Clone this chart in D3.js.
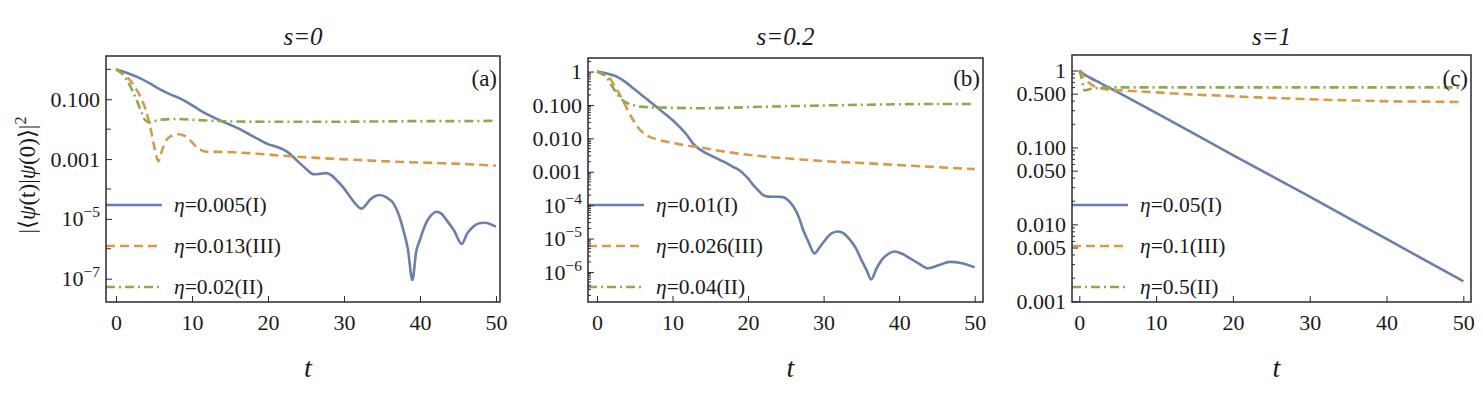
<!DOCTYPE html>
<html><head><meta charset="utf-8">
<script src="https://cdn.jsdelivr.net/npm/d3@7"></script>
<style>
body{margin:0;background:#fff}
svg text{font-family:"Liberation Serif","Times New Roman",serif;fill:#1a1a1a}
</style>
</head><body>
<svg id="chart" width="1483" height="393"></svg>
<script>
// ---------------- DATA ----------------
const panelTitles = ["s=0", "s=0.2", "s=1"];
const panelTags = ["(a)", "(b)", "(c)"];
const xTickValues = [0, 10, 20, 30, 40, 50];
const legendA = ["0.005(I)", "0.013(III)", "0.02(II)"];
const legendB = ["0.01(I)", "0.026(III)", "0.04(II)"];
const legendC = ["0.05(I)", "0.1(III)", "0.5(II)"];

// y tick labels (value, label, exponent-or-null)
const yTicksA = [[1e-1, "0.100", null], [1e-3, "0.001", null], [1e-5, "10", "−5"], [1e-7, "10", "−7"]];
const yTicksB = [[1, "1", null], [1e-1, "0.100", null], [1e-2, "0.010", null], [1e-3, "0.001", null], [1e-4, "10", "−4"], [1e-5, "10", "−5"], [1e-6, "10", "−6"]];
const yTicksC = [[1, "1", null], [0.5, "0.500", null], [0.1, "0.100", null], [0.05, "0.050", null], [0.01, "0.010", null], [0.005, "0.005", null], [0.001, "0.001", null]];

// Panel (a) s=0
const tA1 = [0,1,2,3.2,4.5,5.8,7,8.4,9.7,11,12.3,13.7,15,16.3,17.6,18.9,20,21.1,22.5,23.3,24.2,25.1,26,26.8,27.7,28.4,29,30,30.8,31.6,32.3,33,33.4,34,34.7,35.6,36.5,37.2,37.8,38.4,39,39.5,40,40.6,41.3,42.2,42.8,43.5,44.5,45.5,46.2,47,47.8,48.6,49.3,50];
const yA1 = [1,0.832,0.676,0.501,0.331,0.214,0.151,0.107,0.0708,0.0437,0.0288,0.0195,0.0141,0.01,0.0066,0.00437,0.00316,0.00257,0.00178,0.0012,7.2e-4,4.5e-4,3.1e-4,3.2e-4,3.4e-4,2.8e-4,2.0e-4,1.05e-4,5.5e-5,3.0e-5,2.2e-5,3.2e-5,4.3e-5,5.6e-5,6.3e-5,5.2e-5,3.3e-5,1.4e-5,4.3e-6,1e-6,9e-8,8e-7,2e-6,5.6e-6,1.17e-5,1.74e-5,1.5e-5,9.1e-6,4e-6,1.45e-6,3.2e-6,5.5e-6,7.1e-6,7.4e-6,6.6e-6,5.5e-6];
const tA2 = [0,0.9,1.8,2.5,3.2,3.9,4.5,5.0,5.6,6.0,6.4,7.1,8.2,9.0,9.7,10.4,11.2,12.2,14,16,18.5,22.5,27,32,37,42,46,50];
const yA2 = [1,0.708,0.447,0.251,0.123,0.0447,0.012,0.00282,8.5e-4,0.00178,0.00339,0.00562,0.00676,0.00603,0.00437,0.00282,0.002,0.00174,0.00174,0.00166,0.00151,0.00126,0.00107,9.3e-4,8.1e-4,7.4e-4,6.8e-4,6.0e-4];
const tA3 = [0,0.7,1.4,2.1,2.7,3.3,3.8,4.5,5.2,6,8,11,15,20,25,30,35,40,45,50];
const yA3 = [1,0.759,0.447,0.209,0.0955,0.0398,0.0204,0.0166,0.0191,0.0209,0.0219,0.02,0.0182,0.0178,0.0178,0.0178,0.0182,0.0186,0.0186,0.0191];

// Panel (b) s=0.2
const tB1 = [0,1.3,2.6,3.7,4.8,5.9,7,8.1,9.2,10.1,11,11.9,12.7,13.6,14.5,15.4,16.3,17.2,18,18.7,19.3,20,20.7,21.4,22,22.7,23.3,24,24.6,25.3,26,26.7,27.3,28,28.8,29.5,30.4,31.1,31.9,32.7,33.5,34.3,35,35.7,36.3,37,37.7,38.5,39.4,40.4,41.4,42.6,43.8,45.2,46.7,48.3,50];
const yB1 = [1,0.871,0.708,0.501,0.316,0.2,0.126,0.0794,0.0501,0.0339,0.0214,0.0126,0.00708,0.00468,0.00355,0.00282,0.00224,0.00178,0.00141,0.00117,9.1e-4,6.3e-4,4.0e-4,2.7e-4,2.0e-4,1.8e-4,1.78e-4,1.78e-4,1.74e-4,1.41e-4,9.1e-5,4.5e-5,1.8e-5,7.9e-6,3.6e-6,5.6e-6,1.02e-5,1.45e-5,1.62e-5,1.41e-5,9.1e-6,5.0e-6,2.3e-6,1.12e-6,6.0e-7,1.26e-6,2.3e-6,3.4e-6,4.1e-6,3.5e-6,2.6e-6,1.78e-6,1.29e-6,1.58e-6,2.0e-6,1.82e-6,1.38e-6];
const tB2 = [0,0.8,1.7,2.5,3.4,4.1,4.8,5.6,6.5,7.8,9.2,11,13.6,17,22.4,27,31.3,36,40.1,45,50];
const yB2 = [1,0.832,0.631,0.316,0.141,0.0676,0.0355,0.0191,0.0126,0.00955,0.00794,0.00661,0.00537,0.00398,0.00282,0.00234,0.002,0.00178,0.00158,0.00138,0.0012];
const tB3 = [0,0.6,1.2,1.9,2.6,3.2,3.9,4.8,5.7,7,9.2,13.6,18,22.4,27,31.3,36,40.1,45,50];
const yB3 = [1,0.871,0.708,0.398,0.224,0.151,0.117,0.1,0.0891,0.0851,0.0832,0.0794,0.0832,0.0891,0.0933,0.0977,0.102,0.105,0.107,0.107];

// Panel (c) s=1
const tC1 = [0,0.5,1.4,2.7,4.4,10,20,30,40,50];
const yC1 = [1,0.912,0.805,0.692,0.562,0.282,0.0794,0.0229,0.00646,0.00182];
const tC2 = [0,0.3,0.7,1.0,1.4,2,2.7,4,5.7,10,14.4,19,23.1,27.5,31.8,36,40.5,45,50];
const yC2 = [1,0.912,0.832,0.741,0.676,0.617,0.589,0.562,0.55,0.519,0.49,0.468,0.447,0.432,0.417,0.407,0.398,0.394,0.389];
const tC3 = [0,0.15,0.3,0.5,0.7,1.0,1.4,2.2,3.6,10,20,30,40,50];
const yC3 = [1,0.912,0.794,0.631,0.55,0.556,0.575,0.589,0.603,0.603,0.603,0.603,0.603,0.603];

// ---------------- STYLE / LAYOUT ----------------
const colors = ["#6a80aa", "#d89a4a", "#8ea84e"];
const dashes = [null, "9,5", "9,4,2,4"];

const panels = [
  {left:106, right:500, top:56, bottom:302, xDom:[-1.32, 50.53], yDom:[2.8, 1.66e-8],
   ticks:yTicksA, minorMode:"decade", legend:legendA,
   series:[[tA1,yA1],[tA2,yA2],[tA3,yA3]]},
  {left:588, right:983, top:58, bottom:302, xDom:[-1.19, 51.1], yDom:[2.55, 1.26e-7],
   ticks:yTicksB, minorMode:"sub", legend:legendB,
   series:[[tB1,yB1],[tB2,yB2],[tB3,yB3]]},
  {left:1072, right:1471, top:55, bottom:302, xDom:[-0.95, 51.0], yDom:[1.59, 9.8e-4],
   ticks:yTicksC, minorMode:"sub", legend:legendC,
   series:[[tC1,yC1],[tC2,yC2],[tC3,yC3]]}
];

const svg = d3.select("#chart");

panels.forEach((p, i) => {
  const g = svg.append("g");
  const x = d3.scaleLinear().domain(p.xDom).range([p.left, p.right]);
  const y = d3.scaleLog().domain(p.yDom).range([p.top, p.bottom]);

  const clipId = "clip" + i;
  svg.append("clipPath").attr("id", clipId).append("rect")
    .attr("x", p.left).attr("y", p.top).attr("width", p.right - p.left).attr("height", p.bottom - p.top);

  // series
  const line = d3.line().x(d => x(d[0])).y(d => y(d[1])).curve(d3.curveMonotoneX);
  const pg = g.append("g").attr("clip-path", `url(#${clipId})`);
  p.series.forEach((s, k) => {
    const pts = s[0].map((t, j) => [t, s[1][j]]);
    pg.append("path").attr("d", line(pts))
      .attr("fill", "none").attr("stroke", colors[k]).attr("stroke-width", 2.6)
      .attr("stroke-dasharray", dashes[k]);
  });

  // legend
  const legY = [205, 246, 287];
  p.legend.forEach((lab, k) => {
    pg.append("line").attr("x1", p.left).attr("x2", p.left + 56)
      .attr("y1", legY[k]).attr("y2", legY[k])
      .attr("stroke", colors[k]).attr("stroke-width", 2.6).attr("stroke-dasharray", dashes[k]);
    const t = g.append("text").attr("x", p.left + 68).attr("y", legY[k] + 7).attr("font-size", 21.5);
    t.append("tspan").attr("font-style", "italic").text("η");
    t.append("tspan").text("=" + lab);
  });

  // frame
  g.append("rect").attr("x", p.left).attr("y", p.top)
    .attr("width", p.right - p.left).attr("height", p.bottom - p.top)
    .attr("fill", "none").attr("stroke", "#2a2a2a").attr("stroke-width", 1.5);

  // x axis
  const xAxis = d3.axisBottom(x).tickValues(xTickValues).tickSizeInner(-6).tickSizeOuter(0).tickPadding(12)
    .tickFormat(d3.format("d"));
  const xg = g.append("g").attr("transform", `translate(0,${p.bottom})`).call(xAxis);
  xg.select(".domain").remove();
  xg.selectAll(".tick line").attr("stroke", "#2a2a2a");
  xg.selectAll(".tick text").attr("font-size", 22).attr("fill", "#1a1a1a");

  // y axis major
  const majorVals = p.ticks.map(d => d[0]);
  const yAxis = d3.axisLeft(y).tickValues(majorVals).tickSizeInner(-6).tickSizeOuter(0).tickPadding(6)
    .tickFormat(() => "");
  const yg = g.append("g").attr("transform", `translate(${p.left},0)`).call(yAxis);
  yg.select(".domain").remove();
  yg.selectAll(".tick line").attr("stroke", "#2a2a2a");
  yg.selectAll(".tick").each(function(v, j) {
    const tk = p.ticks[j];
    const txt = d3.select(this).select("text").attr("font-size", 22)
      .attr("fill", "#1a1a1a").attr("x", -6);
    txt.text(null);
    txt.append("tspan").text(tk[1]);
    if (tk[2]) {
      txt.append("tspan").attr("dy", -9).attr("font-size", 15.5).text(tk[2]);
    }
  });

  // y minor ticks
  const [dmax, dmin] = p.yDom;
  let minor = [];
  for (let e = Math.floor(Math.log10(dmin)); e <= Math.ceil(Math.log10(dmax)); e++) {
    if (p.minorMode === "decade") {
      minor.push(Math.pow(10, e));
    } else {
      for (let m = 1; m <= 9; m++) minor.push(m * Math.pow(10, e));
    }
  }
  minor = minor.filter(v => v <= dmax && v >= dmin && !majorVals.some(mv => Math.abs(mv - v) / v < 1e-6));
  g.append("g").selectAll("line").data(minor).join("line")
    .attr("x1", p.left).attr("x2", d => p.left + (Math.abs(Math.log10(d) - Math.round(Math.log10(d))) < 1e-6 ? 5 : 3))
    .attr("y1", d => y(d)).attr("y2", d => y(d))
    .attr("stroke", "#2a2a2a").attr("stroke-width", 1);

  // titles
  const cx = (p.left + p.right) / 2;
  g.append("text").attr("x", cx).attr("y", 45).attr("text-anchor", "middle")
    .attr("font-size", 25).attr("font-style", "italic").text(panelTitles[i]);
  g.append("text").attr("x", cx + 5).attr("y", 377).attr("text-anchor", "middle")
    .attr("font-size", 28).attr("font-style", "italic").text("t");
  g.append("text").attr("x", p.right - 3).attr("y", 86).attr("text-anchor", "end")
    .attr("font-size", 23).text(panelTags[i]);
});

// y-axis label
const yl = svg.append("text").attr("transform", "translate(35,175) rotate(-90)")
  .attr("text-anchor", "middle").attr("font-size", 23);
yl.append("tspan").text("|⟨");
yl.append("tspan").attr("font-style", "italic").text("ψ");
yl.append("tspan").text("(t)|");
yl.append("tspan").attr("font-style", "italic").text("ψ");
yl.append("tspan").text("(0)⟩|");
yl.append("tspan").attr("dy", -9).attr("font-size", 16).text("2");
</script>
</body></html>
